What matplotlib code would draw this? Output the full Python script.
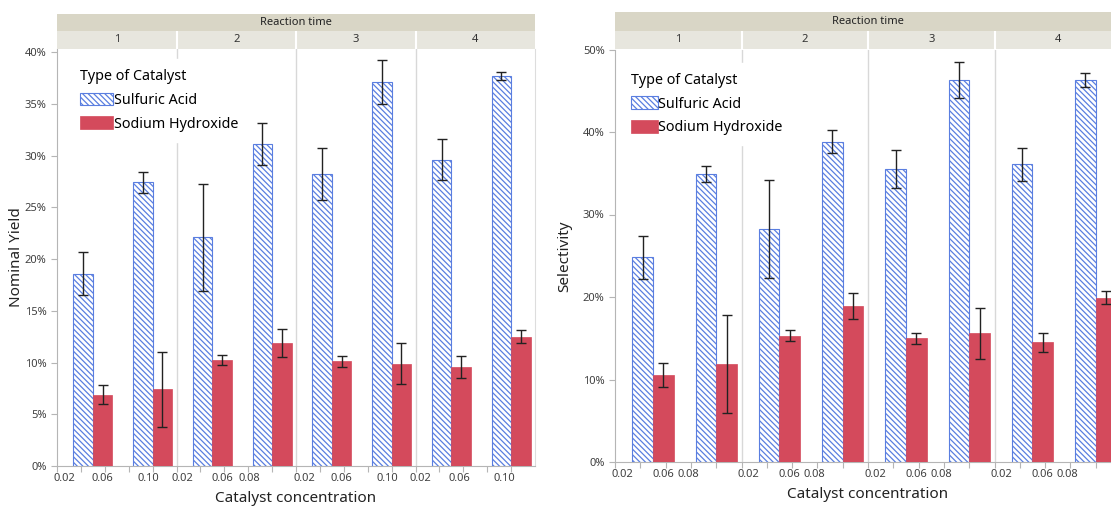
import matplotlib.pyplot as plt
import numpy as np
from matplotlib.patches import Rectangle

plt.rcParams['font.family'] = ['Noto Sans', 'DejaVu Sans']
plt.rcParams['hatch.linewidth'] = 0.9

# reaction time panels and the two concentration groups inside each panel
reaction_times = ['1', '2', '3', '4']
group_conc = [0.05, 0.10]

# nominal yield [%], mean and error half-width, order: time 1..4, group 1..2
yield_sulfuric = [18.6, 27.4, 22.1, 31.1, 28.2, 37.1, 29.6, 37.7]
yield_sulfuric_err = [2.1, 1.0, 5.2, 2.05, 2.5, 2.15, 2.0, 0.35]
yield_sodium = [6.9, 7.4, 10.2, 11.9, 10.1, 9.9, 9.6, 12.5]
yield_sodium_err = [0.9, 3.65, 0.48, 1.35, 0.5, 1.95, 1.05, 0.6]

# selectivity [%]
sel_sulfuric = [24.8, 34.9, 28.2, 38.8, 35.5, 46.3, 36.1, 46.3]
sel_sulfuric_err = [2.65, 0.95, 5.95, 1.4, 2.3, 2.2, 2.0, 0.8]
sel_sodium = [10.6, 11.9, 15.3, 18.9, 15.0, 15.6, 14.5, 19.9]
sel_sodium_err = [1.45, 5.95, 0.65, 1.6, 0.65, 3.1, 1.15, 0.8]

# tick labels shown under each panel (text, offset inside panel)
yield_xlabels = [[('0.02', 0.006), ('0.06', 0.038), ('0.10', 0.076)],
                 [('0.02', 0.005), ('0.06', 0.038), ('0.08', 0.061)],
                 [('0.02', 0.007), ('0.06', 0.038), ('0.10', 0.076)],
                 [('0.02', 0.004), ('0.06', 0.037), ('0.10', 0.074)]]
sel_xlabels = [[('0.02', 0.0055), ('0.06', 0.038), ('0.08', 0.0577)]] * 4

BLUE = '#5a7ee0'
RED = '#d44a5c'
GRAY = '#b5b5b5'
TXT = '#404040'
W = 1111.0
H = 508.0
PANEL = 0.10   # concentration span of one panel
BARW = 0.0163


def px_axes(x0, y0, x1, y1):
    return fig.add_axes([x0 / W, 1 - y1 / H, (x1 - x0) / W, (y1 - y0) / H])


def chart(x0, x1, ytop, ybot, hdr, ymax, ystep, ylabel, s, se, r, re, xlabels,
          ylab_x, leg_anchor, hlen):
    ax = px_axes(x0, ytop, x1, ybot)
    xs = []
    for k in range(4):
        for c in group_conc:
            xs.append(k * PANEL + (c - 0.02))
    xs = np.array(xs)
    ax.bar(xs - BARW, s, BARW, align='edge', facecolor='white', edgecolor=BLUE,
           hatch='\\\\\\\\\\\\', linewidth=0.8, label='Sulfuric Acid', zorder=3)
    ax.bar(xs, r, BARW, align='edge', color=RED, edgecolor=RED, linewidth=0.5,
           label='Sodium Hydroxide', zorder=3)
    ax.errorbar(xs - BARW / 2, s, yerr=se, fmt='none', ecolor='#222222', elinewidth=1,
                capsize=3.6, capthick=1, zorder=4)
    ax.errorbar(xs + BARW / 2, r, yerr=re, fmt='none', ecolor='#222222', elinewidth=1,
                capsize=3.6, capthick=1, zorder=4)
    for k in range(1, 4):
        ax.axvline(k * PANEL, color='#d8d8d8', lw=1, zorder=1)
    ax.set_xlim(0, 4 * PANEL)
    ax.set_ylim(0, ymax)
    yt = np.arange(0, ymax + 0.01, ystep)
    ax.set_yticks(yt)
    ax.set_yticklabels(['%d%%' % v for v in yt])
    ticks = [k * PANEL + d for k in range(4) for d in (0, 0.02, 0.04, 0.06, 0.08)]
    ax.set_xticks(ticks)
    ax.set_xticklabels([])
    pos, lab = [], []
    for k, row in enumerate(xlabels):
        for t, off in row:
            pos.append(k * PANEL + off)
            lab.append(t)
    ax.set_xticks(pos, minor=True)
    ax.set_xticklabels(lab, minor=True)
    ax.tick_params(axis='x', which='minor', length=0, pad=5, labelsize=8, labelcolor=TXT)
    ax.tick_params(axis='x', which='major', length=4, color=GRAY)
    ax.tick_params(axis='y', length=4, color=GRAY, labelsize=8, labelcolor=TXT)
    for sp in ('left', 'bottom'):
        ax.spines[sp].set_color(GRAY)
    ax.spines['top'].set_visible(False)
    ax.spines['right'].set_color('#dddddd')
    ax.set_ylabel(ylabel, fontsize=11, color='#222222')
    ax.yaxis.set_label_coords(ylab_x, 0.5)
    ax.set_xlabel('Catalyst concentration', fontsize=11, color='#222222')
    ax.xaxis.set_label_coords(0.5, -0.06)
    leg = ax.legend(title='Type of Catalyst', loc='upper left', bbox_to_anchor=leg_anchor,
                    frameon=True, fontsize=10.3, title_fontsize=10.3, alignment='left',
                    handlelength=hlen, handleheight=1.0, handletextpad=0.05,
                    labelspacing=0.6, borderaxespad=0, borderpad=0.7, fancybox=False)
    leg.get_frame().set_edgecolor('white')
    leg.get_frame().set_facecolor('white')
    leg.get_frame().set_alpha(1)
    leg.set_zorder(6)

    # "Reaction time" header bands
    h1, h2, h3 = hdr
    band = px_axes(x0, h1, x1, h2)
    band.set_xlim(0, 4 * PANEL)
    band.set_ylim(0, 1)
    band.add_patch(Rectangle((0, 0), 4 * PANEL, 1, color='#d9d6c6'))
    band.text(2 * PANEL, 0.5, 'Reaction time', ha='center', va='center', fontsize=8,
              fontweight='bold', color='#222222')
    band.axis('off')
    sub = px_axes(x0, h2, x1, h3)
    sub.set_xlim(0, 4 * PANEL)
    sub.set_ylim(0, 1)
    sub.add_patch(Rectangle((0, 0), 4 * PANEL, 1, color='#e7e6de'))
    for k, t in enumerate(reaction_times):
        sub.text((k + 0.5) * PANEL, 0.5, t, ha='center', va='center', fontsize=8, color='#333333')
        if k:
            sub.axvline(k * PANEL, color='white', lw=1.5)
    sub.axis('off')
    return ax


fig = plt.figure(figsize=(11.11, 5.08), dpi=100)

chart(57, 535, 49, 466, (14, 31, 49), 40.3, 5, 'Nominal Yield',
      yield_sulfuric, yield_sulfuric_err, yield_sodium, yield_sodium_err,
      yield_xlabels, -0.069, (0.027, 0.976), 2.3)
chart(615, 1121, 49.5, 462, (12.3, 30.7, 49.3), 50, 10, 'Selectivity',
      sel_sulfuric, sel_sulfuric_err, sel_sodium, sel_sodium_err,
      sel_xlabels, -0.085, (0.012, 0.968), 1.85)

fig.savefig('out.png', dpi=100)
